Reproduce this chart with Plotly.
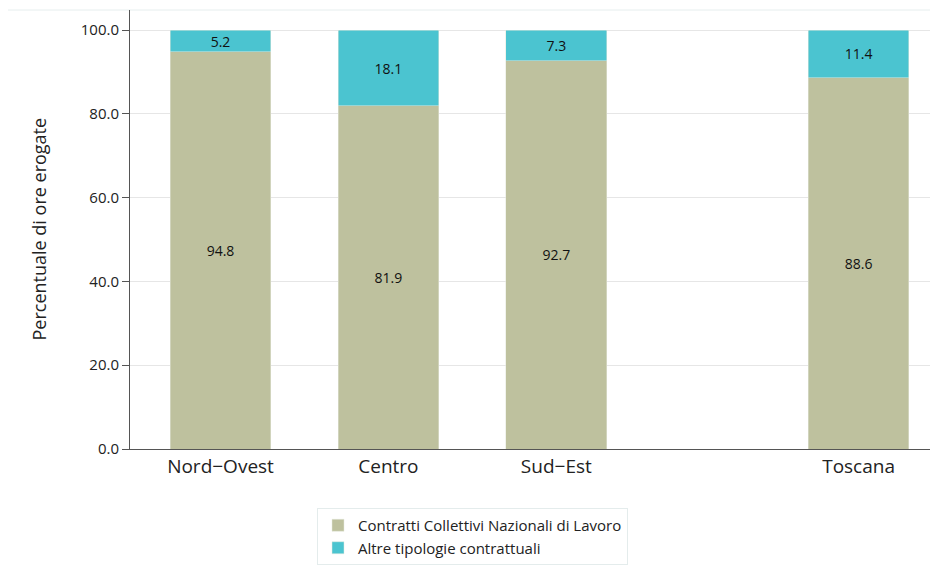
import plotly.graph_objects as go

categories = ["Nord\u2212Ovest", "Centro", "Sud\u2212Est", "Toscana"]
ccnl = [94.8, 81.9, 92.7, 88.6]
altre = [5.2, 18.1, 7.3, 11.4]
series_names = ["Contratti Collettivi Nazionali di Lavoro", "Altre tipologie contrattuali"]
y_ticks = [0, 20, 40, 60, 80, 100]

FONT = "Open Sans"
GAP_BEFORE_LAST = 0.8
xpos = [i + (GAP_BEFORE_LAST if i == len(categories) - 1 else 0) for i in range(len(categories))]

fig = go.Figure()
for name, vals, color in [(series_names[0], ccnl, "#BEC19E"), (series_names[1], altre, "#4BC4D0")]:
    fig.add_trace(go.Bar(
        x=xpos, y=vals, name=name, width=0.6,
        marker=dict(color=color, line=dict(color="#E4E8DC", width=0.5)),
        text=[f"{v:.1f}" for v in vals], textposition="inside",
        insidetextanchor="middle", textangle=0,
        textfont=dict(family=FONT, size=14, color="#111111"),
        constraintext="none",
    ))

OFF = 8  # page body margin
W, H = 938 - OFF, 566 - OFF
L, T, B = 130 - OFF, 10 - OFF, 566 - 449
pw = W - L
ph = H - T - B

def px_x(px):
    return (px - OFF - L) / pw

def px_y(py):
    return (H - B - (py - OFF)) / ph

fig.update_layout(
    width=W, height=H,
    barmode="stack",
    plot_bgcolor="white", paper_bgcolor="white",
    margin=dict(l=L, r=0, t=T, b=B, pad=0),
    font=dict(family=FONT, color="#222222"),
    showlegend=True,
    legend=dict(
        orientation="v", traceorder="normal",
        x=px_x(317), y=px_y(508), xanchor="left", yanchor="top",
        bordercolor="#E4ECEC", borderwidth=1, bgcolor="white",
        font=dict(family=FONT, size=15, color="#222222"),
        itemwidth=30,
    ),
    xaxis=dict(
        tickmode="array", tickvals=xpos, ticktext=categories,
        range=[-0.539, 4.273], showgrid=False, zeroline=False,
        showline=True, linecolor="#555555", linewidth=1,
        ticks="", tickfont=dict(family=FONT, size=19, color="#222222"),
    ),
    yaxis=dict(
        range=[0, 104.8], tickvals=y_ticks, ticktext=[f"{v:.1f}" for v in y_ticks],
        showgrid=True, gridcolor="#E6E6E6", gridwidth=1, zeroline=False,
        showline=True, linecolor="#555555", linewidth=1,
        ticks="outside", ticklen=7, tickcolor="#555555",
        tickfont=dict(family=FONT, size=15, color="#222222"),
    ),
    annotations=[dict(
        text="Percentuale di ore erogate", textangle=-90,
        xref="paper", yref="paper", x=px_x(38), y=0.5,
        xanchor="center", yanchor="middle", showarrow=False,
        font=dict(family=FONT, size=18, color="#222222"),
    )],
    shapes=[dict(
        type="rect", xref="paper", yref="paper",
        x0=px_x(7), x1=1.1, y0=-0.5, y1=1.0,
        line=dict(color="#E6EEEE", width=1), fillcolor="rgba(0,0,0,0)", layer="below",
    )],
)

fig.write_html("out.html")
